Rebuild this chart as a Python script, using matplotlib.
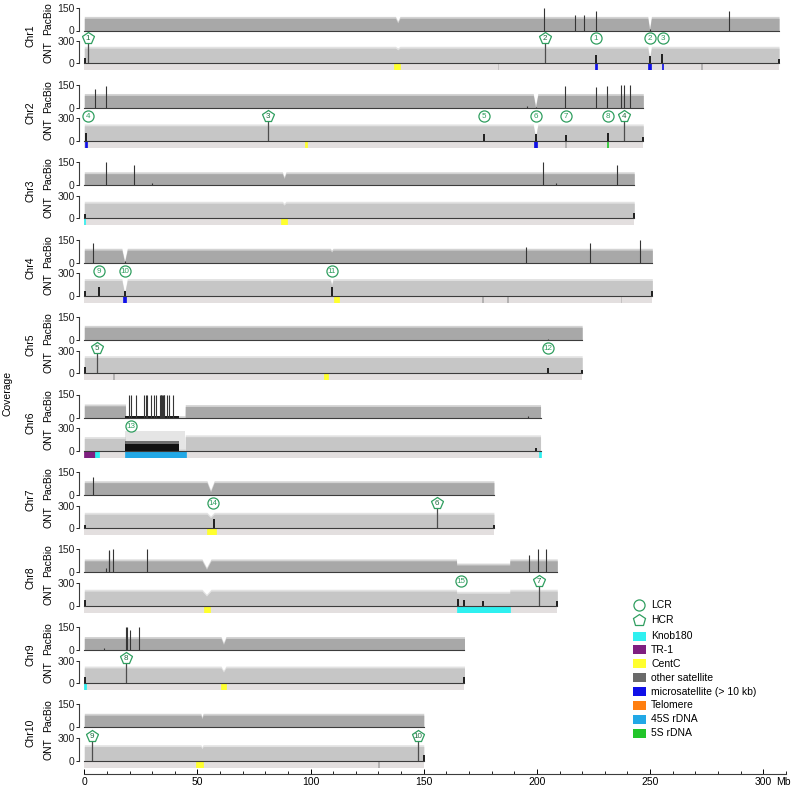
"""Read coverage (PacBio / ONT) along the ten maize chromosomes"""

import matplotlib
matplotlib.use("Agg")
import matplotlib.pyplot as plt
import numpy as np

plt.rcParams['font.family'] = ['Liberation Sans', 'DejaVu Sans']
plt.rcParams['font.size'] = 7.5

W, H = 791, 786

CHROMS = ['Chr1', 'Chr2', 'Chr3', 'Chr4', 'Chr5', 'Chr6', 'Chr7', 'Chr8', 'Chr9', 'Chr10']
CHROM_LEN = [307, 247, 243, 251, 220, 201.6, 181, 209, 168, 150]

# typical coverage level of each chromosome
PACBIO_LEVEL = [80, 82, 76, 82, 84, 72, 80, 75, 74, 78]
ONT_LEVEL = [202, 200, 202, 205, 210, 188, 188, 196, 205, 190]

# stretches with another level: (chrom, start, end, pacbio, ont)
LEVEL_SHIFTS = [
    ('Chr6', 0, 18.2, 76, 165),
    ('Chr6', 18.2, 44.6, 0, 0),
    ('Chr8', 164.5, 188, 48, 168),
]

# coverage notches: (chrom, centre, half width, pacbio floor, ont floor)
DIPS = [
    ('Chr1', 138.5, 1.0, 50, 180), ('Chr1', 249.8, 0.8, 3, 60),
    ('Chr2', 199.4, 1.0, 3, 40),
    ('Chr3', 88.3, 0.8, 45, 175),
    ('Chr4', 17.8, 1.2, 2, 20), ('Chr4', 109.3, 0.6, 70, 140),
    ('Chr7', 55.8, 1.6, 20, 140),
    ('Chr8', 54.0, 2.0, 20, 130),
    ('Chr9', 61.5, 1.1, 35, 150),
    ('Chr10', 52.0, 0.5, 55, 160),
]

# 45S rDNA block on Chr6: dark ONT coverage and a light halo
RDNA_CHROM = 'Chr6'
RDNA_START, RDNA_END, RDNA_HALO_END = 18.2, 41.8, 44.6
RDNA_ONT = 95
RDNA_ONT_HALO = 260
RDNA_PACBIO = 8

PACBIO_SPIKES = [
    ('Chr1', 203, 150), ('Chr1', 217, 104), ('Chr1', 221, 104), ('Chr1', 226, 130),
    ('Chr1', 249.8, 8), ('Chr1', 285, 124),
    ('Chr2', 4.6, 126), ('Chr2', 9.5, 144), ('Chr2', 195.6, 10), ('Chr2', 199.4, 8),
    ('Chr2', 212.6, 144), ('Chr2', 226, 138), ('Chr2', 231, 144), ('Chr2', 237, 150),
    ('Chr2', 238.6, 150), ('Chr2', 241, 150),
    ('Chr3', 9.7, 150), ('Chr3', 22, 130), ('Chr3', 30, 12), ('Chr3', 202.6, 150),
    ('Chr3', 208.6, 12), ('Chr3', 235.5, 130),
    ('Chr4', 4, 130), ('Chr4', 17.8, 8), ('Chr4', 195.4, 104), ('Chr4', 223.6, 130),
    ('Chr4', 245.7, 150),
    ('Chr5', 204.8, 10),
    ('Chr6', 19.6, 150), ('Chr6', 20.6, 150), ('Chr6', 22.9, 150), ('Chr6', 26.5, 150),
    ('Chr6', 27.2, 150), ('Chr6', 27.9, 150), ('Chr6', 29.4, 150), ('Chr6', 30.9, 150),
    ('Chr6', 31.6, 150), ('Chr6', 33.5, 150), ('Chr6', 33.8, 150), ('Chr6', 34.1, 150),
    ('Chr6', 34.4, 150), ('Chr6', 34.7, 150), ('Chr6', 35.0, 150), ('Chr6', 35.3, 150),
    ('Chr6', 36.5, 150), ('Chr6', 37.5, 150), ('Chr6', 39.1, 150), ('Chr6', 196, 10),
    ('Chr7', 4, 117),
    ('Chr8', 9.7, 25), ('Chr8', 10.7, 145), ('Chr8', 11.1, 140), ('Chr8', 12.9, 150),
    ('Chr8', 27.9, 150), ('Chr8', 196.7, 111), ('Chr8', 200.7, 150), ('Chr8', 204, 150),
    ('Chr9', 8.5, 10), ('Chr9', 18.6, 150), ('Chr9', 18.9, 150), ('Chr9', 20.3, 128),
    ('Chr9', 24, 150),
]

# short dark ONT bars
ONT_BARS = [
    ('Chr1', 0.3, 70), ('Chr1', 226, 110), ('Chr1', 249.8, 100), ('Chr1', 255.5, 120), ('Chr1', 307, 60),
    ('Chr2', 0.6, 100), ('Chr2', 176.6, 90), ('Chr2', 199.4, 90), ('Chr2', 212.8, 80),
    ('Chr2', 231.2, 100), ('Chr2', 247, 50),
    ('Chr3', 0.2, 60), ('Chr3', 243, 70),
    ('Chr4', 0.2, 60), ('Chr4', 6.3, 120), ('Chr4', 17.8, 60), ('Chr4', 109.3, 120), ('Chr4', 251, 60),
    ('Chr5', 0.2, 80), ('Chr5', 205, 70), ('Chr5', 220, 40),
    ('Chr6', 199.5, 40),
    ('Chr7', 0.2, 50), ('Chr7', 57.2, 120), ('Chr7', 181, 50),
    ('Chr8', 0.2, 80), ('Chr8', 165, 90), ('Chr8', 167.6, 80), ('Chr8', 176, 60), ('Chr8', 209, 60),
    ('Chr9', 0.2, 80), ('Chr9', 168, 80),
    ('Chr10', 150, 80),
]

# low (LCR) and high (HCR) coverage regions: (chrom, Mb, kind, number)
MARKERS = [
    ('Chr1', 1.7, 'HCR', 1), ('Chr1', 203.5, 'HCR', 2), ('Chr1', 226, 'LCR', 1),
    ('Chr1', 249.8, 'LCR', 2), ('Chr1', 255.6, 'LCR', 3),
    ('Chr2', 1.8, 'LCR', 4), ('Chr2', 81.3, 'HCR', 3), ('Chr2', 176.6, 'LCR', 5),
    ('Chr2', 199.6, 'LCR', 6), ('Chr2', 212.9, 'LCR', 7), ('Chr2', 231.3, 'LCR', 8),
    ('Chr2', 238.6, 'HCR', 4),
    ('Chr4', 6.5, 'LCR', 9), ('Chr4', 18, 'LCR', 10), ('Chr4', 109.3, 'LCR', 11),
    ('Chr5', 5.5, 'HCR', 5), ('Chr5', 205, 'LCR', 12),
    ('Chr6', 20.5, 'LCR', 13),
    ('Chr7', 57, 'LCR', 14), ('Chr7', 155.7, 'HCR', 6),
    ('Chr8', 166.3, 'LCR', 15), ('Chr8', 201, 'HCR', 7),
    ('Chr9', 18.5, 'HCR', 8),
    ('Chr10', 3.2, 'HCR', 9), ('Chr10', 147.4, 'HCR', 10),
]

# repeat annotation under each chromosome: (chrom, start, end, feature)
BAND_FEATURES = [
    ('Chr1', 137, 139.5, 'CentC'), ('Chr1', 182.6, 182.9, 'other satellite'),
    ('Chr1', 225.8, 226.4, 'microsatellite (> 10 kb)'), ('Chr1', 249.3, 250.5, 'microsatellite (> 10 kb)'),
    ('Chr1', 255.3, 255.8, 'microsatellite (> 10 kb)'), ('Chr1', 272.5, 272.8, 'other satellite'),
    ('Chr2', 0.3, 1.2, 'microsatellite (> 10 kb)'), ('Chr2', 97.5, 98.5, 'CentC'),
    ('Chr2', 198.8, 200.2, 'microsatellite (> 10 kb)'), ('Chr2', 212.5, 212.9, 'other satellite'),
    ('Chr2', 230.8, 231.5, '5S rDNA'),
    ('Chr3', 0, 0.5, 'Knob180'), ('Chr3', 87, 89.5, 'CentC'),
    ('Chr4', 17.3, 18.3, 'microsatellite (> 10 kb)'), ('Chr4', 110.5, 112.5, 'CentC'),
    ('Chr4', 175.7, 176, 'other satellite'), ('Chr4', 187, 187.3, 'other satellite'),
    ('Chr4', 237, 237.3, 'other satellite'),
    ('Chr5', 12.8, 13.2, 'other satellite'), ('Chr5', 106, 107.5, 'CentC'),
    ('Chr6', 0, 4.8, 'TR-1'), ('Chr6', 4.8, 6.5, 'Knob180'), ('Chr6', 18, 44.8, '45S rDNA'),
    ('Chr6', 201, 201.6, 'Knob180'),
    ('Chr7', 54, 58, 'CentC'),
    ('Chr8', 53, 55.5, 'CentC'), ('Chr8', 164.5, 188, 'Knob180'),
    ('Chr9', 0, 0.8, 'Knob180'), ('Chr9', 60.5, 62.5, 'CentC'),
    ('Chr10', 49.5, 52.5, 'CentC'), ('Chr10', 130, 130.4, 'other satellite'),
]

FEATURES = ['Knob180', 'TR-1', 'CentC', 'other satellite', 'microsatellite (> 10 kb)',
            'Telomere', '45S rDNA', '5S rDNA']
FEATURE_COLORS = ['#2ff0f0', '#7f1f80', '#ffff2e', '#6a6a6a', '#1010e8',
                  '#ff7f10', '#22a8e6', '#22c52a']

GREEN = '#2f9e5f'
PACBIO_GRAY = '#a8a8a8'
ONT_GRAY = '#c6c6c6'
BAND_GRAY = '#e3dfdf'

# pixel layout
X0 = 84.3
PX_PER_MB = 2.263
XMAX = 310
AX_W = XMAX * PX_PER_MB
PB_H = 23
ONT_H = 22.5
BAND_H = 7


def px_axes(fig, left, top, width, height):
    """add an axes given in pixels from the top left corner"""
    ax = fig.add_axes([left / W, 1 - (top + height) / H, width / W, height / H])
    ax.patch.set_visible(False)
    return ax


def coverage(name, length, which):
    """coverage profile of one chromosome built from the levels above"""
    i = CHROMS.index(name)
    x = np.linspace(0, length, 4000)
    y = np.full_like(x, PACBIO_LEVEL[i] if which == 'pb' else ONT_LEVEL[i])
    for chrom, start, end, pb, ont in LEVEL_SHIFTS:
        if chrom == name:
            y[(x >= start) & (x <= end)] = pb if which == 'pb' else ont
    for chrom, centre, half, pb_floor, ont_floor in DIPS:
        if chrom == name:
            floor = pb_floor if which == 'pb' else ont_floor
            near = np.abs(x - centre) < half
            v = floor + (y - floor) * np.abs(x - centre) / half
            y[near] = np.minimum(y[near], v[near])
    return x, y


def style_axes(ax, length, top, label_top):
    for side in ['top', 'right']:
        ax.spines[side].set_visible(False)
    ax.spines['left'].set_position(('outward', 3.6))
    ax.spines['left'].set_bounds(0, top)
    ax.spines['bottom'].set_position(('data', 0))
    ax.spines['bottom'].set_bounds(0, length)
    for side in ['left', 'bottom']:
        ax.spines[side].set_color('#3c3c3c')
        ax.spines[side].set_linewidth(0.8)
    ax.set_xlim(0, XMAX)
    ax.set_xticks([])
    ax.set_yticks([0, top])
    ax.set_yticklabels(['0', label_top])
    ax.tick_params(axis='y', length=2.2, width=0.7, pad=1, labelsize=7.5, colors='#222222')


def main():
    fig = plt.figure(figsize=(W / 100, H / 100), dpi=100)

    for i, name in enumerate(CHROMS):
        length = CHROM_LEN[i]
        pb0 = 30.5 + 77.4 * i
        ont0 = 63.3 + 77.5 * i

        #PacBio panel
        ax_pb = px_axes(fig, X0, pb0 - PB_H, AX_W, PB_H)
        ax_pb.set_ylim(0, 150)
        x, y = coverage(name, length, 'pb')
        ax_pb.fill_between(x, 0, y + 12, color=PACBIO_GRAY, alpha=0.5, lw=0)
        ax_pb.fill_between(x, 0, y, color=PACBIO_GRAY, lw=0)
        if name == RDNA_CHROM:
            ax_pb.fill_between([RDNA_START, RDNA_END], 0, RDNA_PACBIO, color='#1a1a1a', lw=0)
        spikes = [(p, h) for c, p, h in PACBIO_SPIKES if c == name]
        if spikes:
            pos, hts = zip(*spikes)
            ax_pb.vlines(pos, 0, hts, color='#353535', lw=0.8)
        style_axes(ax_pb, length, 150, '150')

        #ONT panel with the repeat band underneath
        ax_ont = px_axes(fig, X0, ont0 - ONT_H, AX_W, ONT_H + BAND_H)
        band_units = 300 * BAND_H / ONT_H
        ax_ont.set_ylim(-band_units, 300)
        x, y = coverage(name, length, 'ont')
        ax_ont.fill_between(x, 0, y + 25, color=ONT_GRAY, alpha=0.5, lw=0)
        ax_ont.fill_between(x, 0, y, color=ONT_GRAY, lw=0)
        if name == RDNA_CHROM:
            ax_ont.fill_between([RDNA_START, RDNA_HALO_END], 0, RDNA_ONT_HALO, color=ONT_GRAY, alpha=0.45, lw=0)
            ax_ont.fill_between([RDNA_START, RDNA_END], 0, RDNA_ONT + 30, color='#222222', alpha=0.6, lw=0)
            ax_ont.fill_between([RDNA_START, RDNA_END], 0, RDNA_ONT, color='#111111', lw=0)
        bars = [(p, h) for c, p, h in ONT_BARS if c == name]
        if bars:
            pos, hts = zip(*bars)
            ax_ont.vlines(pos, 0, hts, color='#111111', lw=1.3)

        ax_ont.bar(0, -band_units + 1, width=length, bottom=-1.5, align='edge', color=BAND_GRAY, lw=0)
        for c, start, end, feat in BAND_FEATURES:
            if c == name:
                col = FEATURE_COLORS[FEATURES.index(feat)]
                # the thin satellite stripes look pale in the original
                fade = 0.35 if feat == 'other satellite' else 1
                ax_ont.bar(start, -band_units + 1, width=end - start, bottom=-1.5, align='edge',
                           color=col, edgecolor=col, lw=0.5, alpha=fade)

        for c, pos, kind, num in MARKERS:
            if c != name:
                continue
            if kind == 'HCR':
                ax_ont.vlines(pos, 0, 318, color='#4d4d4d', lw=0.9, clip_on=False)
            ax_ont.plot(pos, 332, marker='p' if kind == 'HCR' else 'o', ms=8.5 if kind == 'HCR' else 8,
                        mfc='white', mec=GREEN, mew=0.9, clip_on=False, zorder=10)
            ax_ont.text(pos, 330, str(num), ha='center', va='center', fontsize=5.8,
                        color='#1d6b3e' if kind == 'HCR' else GREEN, zorder=11, clip_on=False)
        style_axes(ax_ont, length, 300, '300')

        #row labels
        fig.text(48 / W, 1 - (pb0 - PB_H / 2) / H, 'PacBio', rotation=90, ha='center', va='center', fontsize=7.5)
        fig.text(48 / W, 1 - (ont0 - ONT_H / 2) / H, 'ONT', rotation=90, ha='center', va='center', fontsize=7.5)
        fig.text(30 / W, 1 - ((pb0 - PB_H + ont0) / 2) / H, name, rotation=90, ha='center', va='center', fontsize=7.5)

    fig.text(8 / W, 1 - 393 / H, 'Coverage', rotation=90, ha='center', va='center', fontsize=7.5)

    #shared position axis
    ax_x = px_axes(fig, X0, 760, AX_W, 14)
    for side in ['top', 'right', 'left']:
        ax_x.spines[side].set_visible(False)
    ax_x.spines['bottom'].set_bounds(0, XMAX)
    ax_x.spines['bottom'].set_color('#3c3c3c')
    ax_x.spines['bottom'].set_linewidth(0.8)
    ax_x.set_xlim(0, XMAX)
    ax_x.set_yticks([])
    ax_x.set_xticks(np.arange(0, 301, 50))
    ax_x.set_xticks(np.arange(0, 311, 10), minor=True)
    ax_x.tick_params(axis='x', which='major', direction='in', length=3.5, width=0.7, pad=2.5, labelsize=7.5)
    ax_x.tick_params(axis='x', which='minor', direction='in', length=2, width=0.6)
    fig.text(783 / W, 1 - 782 / H, 'Mb', ha='center', va='center', fontsize=7.5)

    #legend drawn in pixel space
    ax_leg = fig.add_axes([0, 0, 1, 1])
    ax_leg.set_xlim(0, W)
    ax_leg.set_ylim(H, 0)
    ax_leg.axis('off')
    ax_leg.plot(639, 605, marker='o', ms=8, mfc='white', mec=GREEN, mew=0.9)
    ax_leg.text(651, 605, 'LCR', va='center', fontsize=7.5)
    ax_leg.plot(639, 620, marker='p', ms=9, mfc='white', mec=GREEN, mew=0.9)
    ax_leg.text(651, 620, 'HCR', va='center', fontsize=7.5)
    for k, (feat, col) in enumerate(zip(FEATURES, FEATURE_COLORS)):
        yc = 636 + 13.9 * k
        ax_leg.bar(633, 9, width=13, bottom=yc - 4.5, align='edge', color=col, lw=0)
        ax_leg.text(651, yc, feat, va='center', fontsize=7.5)

    fig.savefig('out.png', dpi=100)
    plt.close(fig)


if __name__ == "__main__":
    main()
